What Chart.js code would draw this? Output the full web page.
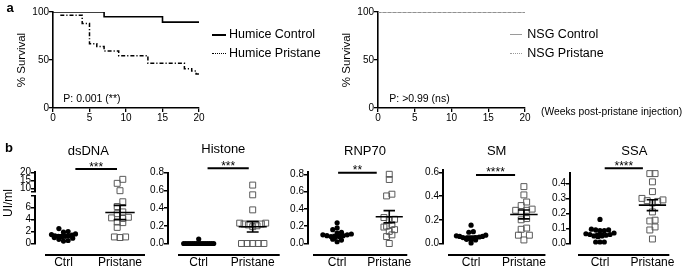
<!DOCTYPE html>
<html><head><meta charset="utf-8">
<script src="https://cdn.jsdelivr.net/npm/chart.js@4"></script>
<style>
html,body{margin:0;padding:0;background:#fff;}
#fig{position:relative;width:685px;height:269px;overflow:hidden;font-family:"Liberation Sans",Arial,Helvetica,sans-serif;color:#000;}
#fig canvas{position:absolute;}
.t{position:absolute;white-space:nowrap;line-height:1;}
</style></head><body><div id="fig"></div>
<script>
// ---------------- DATA ----------------
// Panel a: survival (weeks post-pristane injection, % survival)
const weekTicks = [0, 5, 10, 15, 20];
const survTicks = [0, 50, 100];
const humiceCtrlWeeks = [0, 7, 15, 20];
const humiceCtrlSurv  = [100, 95, 89.5, 89.5];
const humicePriWeeks  = [1, 4, 5, 6, 7, 9, 13, 18, 19, 19.6, 20];
const humicePriSurv   = [96.5, 88, 67, 64, 59.5, 54.5, 46.5, 41, 38.5, 35.5, 35.5];
const nsgCtrlWeeks = [0, 20];
const nsgCtrlSurv  = [100, 100];
const nsgPriWeeks  = [0, 20];
const nsgPriSurv   = [100, 100];

// Panel b: autoantibodies (UI/ml)
const catNames = ['Ctrl', 'Pristane'];
const panelTitles = ['dsDNA', 'Histone', 'RNP70', 'SM', 'SSA'];
const sigStars = ['***', '***', '**', '****', '****'];
const dsdnaCtrl = [2.5, 2.0, 1.9, 1.6, 1.5, 1.4, 1.3, 1.3, 1.2, 1.2, 1.1, 1.0, 0.9, 0.7, 0.5, 0.4];
const dsdnaPri  = [15.6, 13.1, 8.5, 7.0, 6.2, 5.3, 5.0, 4.4, 4.3, 4.2, 3.6, 3.5, 2.7, 1.1, 1.0, 1.1];
const histoneCtrl = [0.05, 0, 0, 0, 0, 0, 0, 0, 0, 0, 0, 0, 0, 0, 0, 0];
const histonePri  = [0.66, 0.55, 0.38, 0.23, 0.23, 0.22, 0.22, 0.21, 0.20, 0.19, 0, 0, 0, 0, 0];
const rnp70Ctrl = [0.24, 0.18, 0.16, 0.13, 0.12, 0.11, 0.10, 0.10, 0.09, 0.09, 0.08, 0.08, 0.07, 0.05, 0.04, 0.02];
const rnp70Pri  = [0.80, 0.74, 0.57, 0.55, 0.30, 0.28, 0.27, 0.22, 0.20, 0.19, 0.16, 0.14, 0.10, 0.08, 0.0];
const smCtrl = [0.155, 0.10, 0.095, 0.07, 0.065, 0.06, 0.06, 0.055, 0.05, 0.05, 0.045, 0.04, 0.04, 0.035, 0.03, 0.005];
const smPri  = [0.48, 0.41, 0.35, 0.32, 0.29, 0.28, 0.28, 0.27, 0.21, 0.20, 0.13, 0.12, 0.07, 0.07, 0.03];
const ssaCtrl = [0.16, 0.095, 0.09, 0.09, 0.085, 0.085, 0.07, 0.065, 0.06, 0.06, 0.055, 0.05, 0.05, 0.045, 0.01, 0.01, 0.01];
const ssaPri  = [0.465, 0.465, 0.41, 0.345, 0.30, 0.29, 0.285, 0.28, 0.27, 0.21, 0.155, 0.15, 0.11, 0.09, 0.03];
const ctrlMean = [1.3, 0.003, 0.09, 0.055, 0.06];
const ctrlSem  = [0.15, 0.003, 0.013, 0.008, 0.008];
const priMean  = [5.2, 0.19, 0.31, 0.245, 0.255];
const priSem   = [1.2, 0.06, 0.07, 0.037, 0.036];
const yTickVals = [[0, 2, 4, 6], [0, 0.2, 0.4, 0.6, 0.8], [0, 0.2, 0.4, 0.6, 0.8], [0, 0.2, 0.4, 0.6], [0, 0.1, 0.2, 0.3, 0.4]];
const yMaxes = [8, 0.8, 0.83, 0.62, 0.467];
const dsdnaUpperTicks = [10, 15, 20];
const dsdnaUpperRange = [8, 20];
const sigLevels = [22.06, 0.85, 0.818, 0.578, 0.5];

// ---------------- LAYOUT ----------------
const fig = document.getElementById('fig');
const FONT = '"Liberation Sans", Arial, Helvetica, sans-serif';
Chart.defaults.font.family = FONT;
Chart.defaults.color = '#000';
Chart.defaults.animation = false;

function txt(s, x, y, size, opt) {
  opt = opt || {};
  const d = document.createElement('div');
  d.className = 't'; d.textContent = s;
  d.style.fontSize = size + 'px'; d.style.left = x + 'px'; d.style.top = y + 'px';
  let tr = opt.center ? 'translate(-50%,-50%)' : 'translate(0,-50%)';
  if (opt.rotate) tr += ' rotate(-90deg)';
  d.style.transform = tr;
  if (opt.bold) d.style.fontWeight = 'bold';
  if (opt.color) d.style.color = opt.color;
  fig.appendChild(d);
}
function sample(x0, x1, y, color, style, w) {
  const d = document.createElement('div');
  d.style.cssText = `position:absolute;left:${x0}px;top:${y - w / 2}px;width:${x1 - x0}px;height:0;border-top:${w}px ${style} ${color};`;
  fig.appendChild(d);
}
function mkCanvas(left, top, w, h) {
  const c = document.createElement('canvas');
  c.width = w; c.height = h; c.style.left = left + 'px'; c.style.top = top + 'px';
  c.style.width = w + 'px'; c.style.height = h + 'px';
  fig.appendChild(c); return c;
}
const tickGrid = (len, lw) => ({display: true, drawOnChartArea: false, drawTicks: true, tickLength: len, color: '#000', lineWidth: lw});

// ---------- Panel a: survival ----------
const SURV_W = 215, SURV_H = 130, SURV_TOP = 12, SURV_BOTTOM = 108;
const survDefs = [
  {cl: 0, axisX: 53, right: 199, sets: [
    {w: humiceCtrlWeeks, s: humiceCtrlSurv, color: '#000', dash: [], width: 1.6, order: 1},
    {w: humicePriWeeks, s: humicePriSurv, color: '#000', dash: [4, 2, 1.2, 2], width: 1.5, order: 0}]},
  {cl: 325, axisX: 378, right: 525, sets: [
    {w: nsgCtrlWeeks, s: nsgCtrlSurv, color: '#b4b4b4', dash: [], width: 1.8, order: 1},
    {w: nsgPriWeeks, s: nsgPriSurv, color: '#6e6e6e', dash: [3, 2], width: 1.2, order: 0}]}
];
survDefs.forEach(S => {
  const c = mkCanvas(S.cl, 0, SURV_W, SURV_H);
  new Chart(c, {
    type: 'line',
    data: {datasets: S.sets.map(d => ({
      data: d.w.map((w, k) => ({x: w, y: d.s[k]})),
      stepped: true, borderColor: d.color, borderWidth: d.width, borderDash: d.dash,
      pointRadius: 0, fill: false, order: d.order
    }))},
    options: {
      responsive: false, devicePixelRatio: 1, events: [],
      layout: {padding: {left: 0, top: SURV_TOP, right: SURV_W - (S.right - S.cl), bottom: 0}},
      plugins: {legend: {display: false}, tooltip: {enabled: false}},
      scales: {
        x: {type: 'linear', min: 0, max: 20,
          afterFit: a => { a.height = SURV_H - SURV_BOTTOM; },
          afterBuildTicks: a => { a.ticks = weekTicks.map(v => ({value: v})); },
          ticks: {font: {size: 10}, color: '#000', padding: 0, autoSkip: false, maxRotation: 0},
          grid: tickGrid(4, 1.3), border: {display: true, color: '#000', width: 1.6}},
        y: {type: 'linear', min: 0, max: 100,
          afterFit: a => { a.width = S.axisX - S.cl; },
          afterBuildTicks: a => { a.ticks = survTicks.map(v => ({value: v})); },
          ticks: {font: {size: 10}, color: '#000', padding: 0, autoSkip: false},
          grid: tickGrid(4, 1.3), border: {display: true, color: '#000', width: 1.6},
          title: {display: true, text: '% Survival', font: {size: 11.5}, color: '#000', padding: {top: 15, bottom: 0}}}
      }
    }
  });
});

// ---------- Panel b: scatter dot plots ----------
const SC_TOP = 140, SC_H = 129, SC_BOTTOM = 243.5, X_OFF = 11.5, YW = 35;
const scLayout = [
  {axisX: 35,    gap: 10, xEnd: 145, c0: 63.5, c1: 120, top: 172.3, titleX: 88.3,  titleY: 149.5, sig: [0.21, 0.947]},
  {axisX: 168.3, gap: 10, xEnd: 280, c0: 199,  c1: 253, top: 172.7, titleX: 223.3, titleY: 147.8, sig: [0.164, 0.927]},
  {axisX: 308.3, gap: 5,  xEnd: 413, c0: 339,  c1: 394, top: 171.7, titleX: 365,   titleY: 149.5, sig: [0.019, 0.76]},
  {axisX: 443.3, gap: 5,  xEnd: 548, c0: 472,  c1: 526, top: 170,   titleX: 496.7, titleY: 149.5, sig: [0.093, 0.833]},
  {axisX: 570,   gap: 8,  xEnd: 676, c0: 602,  c1: 658, top: 173.3, titleX: 634.3, titleY: 149.5, sig: [0.09, 0.818]}
];
const panelData = [[dsdnaCtrl, dsdnaPri], [histoneCtrl, histonePri], [rnp70Ctrl, rnp70Pri], [smCtrl, smPri], [ssaCtrl, ssaPri]];

// Prism-style row spreading of points sharing similar values (layout only)
function swarm(vals, pxPerY, diam, maxHalf, pxPerX) {
  const order = vals.map((v, i) => i).sort((a, b) => vals[a] - vals[b]);
  const off = new Array(vals.length).fill(0);
  let row = [];
  const flush = () => {
    const k = row.length; if (!k) return;
    const sp = k > 1 ? Math.min(diam, 2 * maxHalf / (k - 1)) : 0;
    row.forEach((idx, j) => {
      const slot = j % 2 === 0 ? Math.floor((k - 1) / 2) - j / 2 : Math.floor((k - 1) / 2) + (j + 1) / 2;
      off[idx] = ((slot - (k - 1) / 2) * sp) / pxPerX;
    });
    row = [];
  };
  for (const i of order) {
    if (row.length && (vals[i] - vals[row[0]]) * pxPerY > diam * 0.9) flush();
    row.push(i);
  }
  flush();
  return off;
}

function yAxis(min, max, ticks, fmt, extra) {
  return Object.assign({
    type: 'linear', min, max,
    afterFit: a => { a.width = YW; },
    afterBuildTicks: a => { a.ticks = ticks.map(v => ({value: v})); },
    ticks: {autoSkip: false, font: {size: 10}, color: '#000', padding: 0, callback: fmt},
    grid: tickGrid(4, 1.5),
    border: {display: true, color: '#000', width: 2}
  }, extra || {});
}
function errData(c, m, s, hw, cw) {
  return [{x: c - hw, y: m}, {x: c + hw, y: m}, {x: c, y: null},
          {x: c, y: m - s}, {x: c, y: m + s}, {x: c, y: null},
          {x: c - cw, y: m + s}, {x: c + cw, y: m + s}, {x: c, y: null},
          {x: c - cw, y: m - s}, {x: c + cw, y: m - s}];
}
const ctrlStyle = {pointStyle: 'circle', pointRadius: 2.6, backgroundColor: '#000', borderColor: '#000', borderWidth: 0, clip: false, showLine: false};
const priStyle  = {pointStyle: 'rect', pointRadius: 4.2, backgroundColor: 'rgba(255,255,255,0)', borderColor: '#5a5a5a', borderWidth: 1, clip: false, showLine: false};
const errStyle  = {showLine: true, pointRadius: 0, borderColor: '#000', borderWidth: 1.6, clip: false, spanGaps: false};

panelData.forEach((pd, i) => {
  const L = scLayout[i];
  const cl = L.axisX - YW;
  const W = Math.ceil(L.xEnd - cl + 12);
  const c = mkCanvas(cl, SC_TOP, W, SC_H);
  const u = L.c1 - L.c0;
  const plotH = SC_BOTTOM - L.top;
  const [ctrl, pri] = pd;
  const datasets = [];
  let scales, sigAxis;
  if (i === 0) {
    // broken axis: lower 0-8, gap, upper 8-20
    const upH = 19.2, gapH = 4.3, lowH = plotH - upH - gapH;
    const lowPx = lowH / yMaxes[0], upPx = upH / (dsdnaUpperRange[1] - dsdnaUpperRange[0]);
    const priLow = pri.filter(v => v <= yMaxes[0]), priHigh = pri.filter(v => v > yMaxes[0]);
    const oC = swarm(ctrl, lowPx, 4.6, 12, u), oL = swarm(priLow, lowPx, 5.6, 12, u), oH = swarm(priHigh, upPx, 5.6, 12, u);
    datasets.push(Object.assign({data: errData(0, ctrlMean[i], ctrlSem[i], 0.2, 0.09), yAxisID: 'yLow'}, errStyle));
    datasets.push(Object.assign({data: errData(1, priMean[i], priSem[i], 0.26, 0.11), yAxisID: 'yLow'}, errStyle));
    datasets.push(Object.assign({data: ctrl.map((v, k) => ({x: oC[k], y: v})), yAxisID: 'yLow'}, ctrlStyle));
    datasets.push(Object.assign({data: priLow.map((v, k) => ({x: 1 + oL[k], y: v})), yAxisID: 'yLow'}, priStyle));
    datasets.push(Object.assign({data: priHigh.map((v, k) => ({x: 1 + oH[k], y: v})), yAxisID: 'yHigh'}, priStyle));
    const intFmt = v => (v === yMaxes[0] ? '' : String(v));
    scales = {
      yLow: yAxis(0, yMaxes[0], yTickVals[0].concat([yMaxes[0]]), intFmt, {stack: 'ds', stackWeight: lowH}),
      yGap: {type: 'linear', display: true, stack: 'ds', stackWeight: gapH, afterFit: a => { a.width = YW; },
             ticks: {display: false}, grid: {display: false, drawTicks: false}, border: {display: false}},
      yHigh: yAxis(dsdnaUpperRange[0], dsdnaUpperRange[1], [dsdnaUpperRange[0]].concat(dsdnaUpperTicks), v => (v === dsdnaUpperRange[0] ? '' : String(v)), {stack: 'ds', stackWeight: upH})
    };
    sigAxis = 'yHigh';
  } else {
    const px = plotH / yMaxes[i];
    const oC = swarm(ctrl, px, 4.6, 15, u), oP = swarm(pri, px, 5.6, 13, u);
    datasets.push(Object.assign({data: errData(0, ctrlMean[i], ctrlSem[i], 0.2, 0.09)}, errStyle));
    datasets.push(Object.assign({data: errData(1, priMean[i], priSem[i], 0.26, 0.11)}, errStyle));
    datasets.push(Object.assign({data: ctrl.map((v, k) => ({x: oC[k], y: v}))}, ctrlStyle));
    datasets.push(Object.assign({data: pri.map((v, k) => ({x: 1 + oP[k], y: v}))}, priStyle));
    scales = {y: yAxis(0, yMaxes[i], yTickVals[i], v => v.toFixed(1))};
    sigAxis = 'y';
  }
  scales.x = {
    type: 'linear', position: 'bottom',
    min: -(L.c0 - L.axisX) / u, max: (L.xEnd - L.c0) / u,
    afterFit: a => { a.height = SC_H - (SC_BOTTOM - SC_TOP); },
    afterBuildTicks: a => { a.ticks = catNames.map((n, k) => ({value: k})); },
    ticks: {autoSkip: false, maxRotation: 0, font: {size: 12}, color: '#000', padding: X_OFF, callback: v => catNames[v]},
    grid: {display: false, drawTicks: false}, border: {display: false}
  };
  const stars = sigStars[i], sigY = sigLevels[i];
  const prism = {
    id: 'prism' + i,
    afterDatasetsDraw(chart) {
      const {ctx, chartArea: ca, scales: sc} = chart;
      ctx.save();
      ctx.strokeStyle = '#000'; ctx.lineWidth = 2;
      const yx = ca.bottom + X_OFF;
      ctx.beginPath(); ctx.moveTo(ca.left + L.gap, yx); ctx.lineTo(ca.right, yx); ctx.stroke();
      const sx0 = sc.x.getPixelForValue(L.sig[0]), sx1 = sc.x.getPixelForValue(L.sig[1]);
      const sy = sc[sigAxis].getPixelForValue(sigY);
      ctx.beginPath(); ctx.moveTo(sx0, sy); ctx.lineTo(sx1, sy); ctx.stroke();
      ctx.fillStyle = '#000'; ctx.font = '12px ' + FONT; ctx.textAlign = 'center'; ctx.textBaseline = 'alphabetic';
      ctx.fillText(stars, (sx0 + sx1) / 2, sy + 1.5);
      ctx.restore();
    }
  };
  new Chart(c, {
    type: 'scatter',
    data: {datasets},
    options: {
      responsive: false, devicePixelRatio: 1, events: [],
      layout: {padding: {left: 0, top: L.top - SC_TOP, right: W - (L.xEnd - cl), bottom: 0}},
      plugins: {legend: {display: false}, tooltip: {enabled: false}},
      scales
    },
    plugins: [prism]
  });
  txt(panelTitles[i], L.titleX, L.titleY, 13, {center: true});
});

// ---------- Text & legends ----------
txt('a', 6.5, 7.2, 13, {bold: true});
txt('b', 5, 147.2, 13, {bold: true});
txt('P: 0.001 (**)', 63.3, 98, 10.5);
txt('P: >0.99 (ns)', 389.3, 98, 10.5);
txt('(Weeks post-pristane injection)', 541, 111.5, 10.3);
sample(212, 226, 34.7, '#000', 'solid', 2);
sample(212, 226, 53.7, '#000', 'dotted', 1.5);
txt('Humice Control', 229, 34.2, 12.5);
txt('Humice Pristane', 229, 53.2, 12.5);
sample(510, 522, 34.7, '#9a9a9a', 'solid', 1.5);
sample(510, 522, 53.7, '#9a9a9a', 'dotted', 1.3);
txt('NSG Control', 527.3, 34.2, 12.5);
txt('NSG Pristane', 527.3, 53.2, 12.5);
txt('UI/ml', 8.3, 203, 12, {center: true, rotate: true});
</script>
</body></html>
